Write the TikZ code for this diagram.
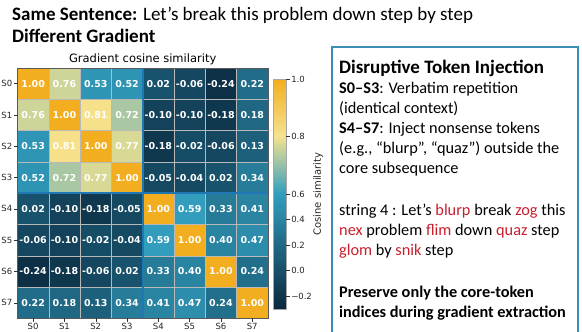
\documentclass[tikz,border=0pt]{standalone}
\usepackage{fontspec}
\setmainfont{Carlito}
\newfontfamily\mplfont{DejaVu Sans}
\definecolor{hmnavy}{RGB}{10,40,62}
\definecolor{hmteal}{RGB}{50,158,190}
\definecolor{hmpale}{RGB}{246,227,143}
\definecolor{hmorange}{RGB}{242,174,30}
\definecolor{divblue}{RGB}{31,119,180}
\definecolor{boxblue}{RGB}{59,142,180}
\definecolor{junkred}{RGB}{200,30,45}
% two-slope colour map: -0.3 .. 0.6 .. 1.0
\newcommand{\heatcolor}[1]{%
  \pgfmathsetmacro{\hv}{#1}%
  \ifdim\hv pt<0.6pt
    \pgfmathsetmacro{\hp}{max(0,min(100,(\hv+0.3)/0.9*100))}\colorlet{heat}{hmteal!\hp!hmnavy}%
  \else\ifdim\hv pt<0.8pt
    \pgfmathsetmacro{\hp}{(\hv-0.6)/0.2*100}\colorlet{heat}{hmpale!\hp!hmteal}%
  \else
    \pgfmathsetmacro{\hp}{min(100,(\hv-0.8)/0.2*100)}\colorlet{heat}{hmorange!\hp!hmpale}%
  \fi\fi}
\newcommand{\junk}[1]{\textcolor{junkred}{#1}}
\begin{document}
\begin{tikzpicture}[x=1pt,y=-1pt]
	\tikzset{cell/.style={minimum width=31.3pt,minimum height=31.3pt,inner sep=0pt,draw=gray!55,line width=0.6pt,text=white,font=\mplfont\bfseries\fontsize{9.5}{10}\selectfont},
		ticklab/.style={font=\mplfont\fontsize{8.5}{9}\selectfont,inner sep=0pt,text=black!85},
		boxtext/.style={font=\fontsize{16.3}{20}\selectfont,inner sep=0pt,align=left,anchor=base west}}
	\useasboundingbox (0,0) rectangle (582,332);
	%Header
	\node[anchor=base west,inner sep=0pt,font=\fontsize{19}{22}\selectfont] (head1) at (12,20) {\textbf{Same Sentence:} Let's break this problem down step by step};
	\node[anchor=base west,inner sep=0pt,font=\fontsize{19}{22}\selectfont\bfseries] (head2) at (12,42) {Different Gradient};
	%Heatmap
	\node[font=\mplfont\fontsize{11.5}{12}\selectfont,anchor=base,inner sep=0pt] (hmtitle) at (142.7,62) {Gradient cosine similarity};
	\foreach \row [count=\i from 0] in {{1.00,0.76,0.53,0.52,0.02,-0.06,-0.24,0.22},
		{0.76,1.00,0.81,0.72,-0.10,-0.10,-0.18,0.18},
		{0.53,0.81,1.00,0.77,-0.18,-0.02,-0.06,0.13},
		{0.52,0.72,0.77,1.00,-0.05,-0.04,0.02,0.34},
		{0.02,-0.10,-0.18,-0.05,1.00,0.59,0.33,0.41},
		{-0.06,-0.10,-0.02,-0.04,0.59,1.00,0.40,0.47},
		{-0.24,-0.18,-0.06,0.02,0.33,0.40,1.00,0.24},
		{0.22,0.18,0.13,0.34,0.41,0.47,0.24,1.00}}{
		\foreach \v [count=\j from 0] in \row {
			\heatcolor{\v}
			\node[cell,fill=heat] (c\i\j) at ({17.5+31.3*(\j+0.5)},{68+31.3*(\i+0.5)}) {\v};
		}
	}
	\draw[gray!70!black,line width=0.6pt] (17.5,68) rectangle (267.9,318.4);
	\draw[divblue,line width=1.6pt] (142.7,68) -- (142.7,318.4);
	\draw[divblue,line width=1.6pt] (17.5,193.2) -- (267.9,193.2);
	\foreach \k in {0,...,7}{
		\draw[black!80,line width=0.5pt] (17.5,{68+31.3*(\k+0.5)}) -- ++(-3.5,0) node[ticklab,anchor=east,xshift=-1.5pt] (ylab\k) {S\k};
		\draw[black!80,line width=0.5pt] ({17.5+31.3*(\k+0.5)},318.4) -- ++(0,3.5) node[ticklab,anchor=north,yshift=-1.5pt] (xlab\k) {S\k};
	}
	%Colorbar
	\foreach \k in {0,...,91}{
		\pgfmathsetmacro{\cbt}{(\k+0.5)/92}
		\pgfmathsetmacro{\cbv}{\cbt<0.5 ? -0.3+\cbt*1.8 : 0.6+(\cbt-0.5)*0.8}
		\heatcolor{\cbv}
		\fill[heat] (273,{309-\k*2.5}) rectangle (286,{max(79,309-(\k+1)*2.5-0.3)});
	}
	\draw[gray!70,line width=0.4pt] (273,79) rectangle (286,309);
	\foreach \cv/\cy [count=\n] in {1.0/79,0.8/136.5,0.6/194,0.4/219.6,0.2/245.1,0.0/270.7,−0.2/296.2}
		\draw[black!80,line width=0.5pt] (286,\cy) -- (289.5,\cy) node[ticklab,anchor=west,xshift=1.5pt] (cbt\n) {\cv};
	\node[ticklab,font=\mplfont\fontsize{10}{10}\selectfont,rotate=90] (cblab) at (318,194) {Cosine similarity};
	%Side box (base = last line)
	\draw[boxblue,line width=1.6pt] (332,340) -- (332,47) -- (578,47) -- (578,340);
	\node[boxtext] (inj) at (339,173) {{\fontsize{19}{20}\selectfont\bfseries Disruptive Token Injection}\\
		\textbf{S0–S3}: Verbatim repetition\\
		(identical context)\\
		\textbf{S4–S7}: Inject nonsense tokens\\
		(e.g., “blurp”, “quaz”) outside the\\
		core subsequence};
	\node[boxtext] (str4) at (339,255) {string 4 : Let's \junk{blurp} break \junk{zog} this\\
		\junk{nex} problem \junk{flim} down \junk{quaz} step\\
		\junk{glom} by \junk{snik} step};
	\node[boxtext,font=\fontsize{16.3}{20}\selectfont\bfseries] (keep) at (339,317) {Preserve only the core-token\\
		indices during gradient extraction};
\end{tikzpicture}
\end{document}
